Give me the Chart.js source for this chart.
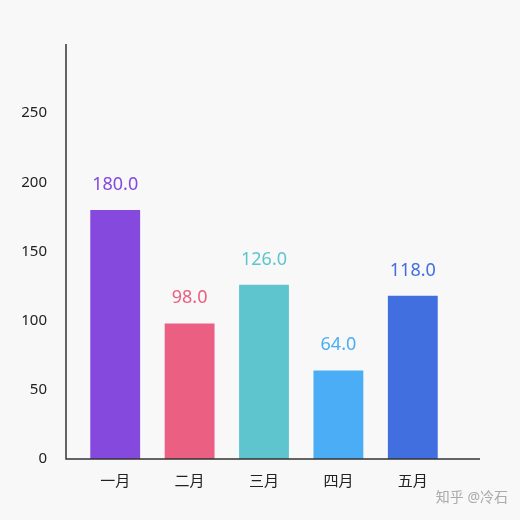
<!DOCTYPE html>
<html><head><meta charset="utf-8">
<script src="https://cdn.jsdelivr.net/npm/chart.js@4"></script>
<style>body{margin:0;background:#f8f8f8}#wrap{width:520px;height:520px;position:relative}</style>
</head><body><div id="wrap"><canvas id="c" width="520" height="520"></canvas></div>
<script>
var months = ['一月','二月','三月','四月','五月'];
var values = [180, 98, 126, 64, 118];
var colors = ['#8549de','#ea5f82','#5ec5cf','#4badf6','#416fdf'];
var yTicks = [0,50,100,150,200,250];
var fam = '"Noto Sans", "Noto Sans CJK SC", sans-serif';

var extras = {
  id: 'extras',
  afterDraw: function(chart){
    var ctx = chart.ctx, a = chart.chartArea;
    ctx.save();
    ctx.strokeStyle = '#333'; ctx.lineWidth = 1.5;
    ctx.beginPath();
    ctx.moveTo(66, a.top); ctx.lineTo(66, a.bottom); ctx.lineTo(480, a.bottom);
    ctx.stroke();
    var meta = chart.getDatasetMeta(0);
    ctx.font = '18px ' + fam;
    ctx.textAlign = 'center';
    meta.data.forEach(function(b, i){
      ctx.fillStyle = colors[i];
      ctx.fillText(values[i].toFixed(1), b.x, b.y - 20);
    });
    ctx.font = '14px ' + fam;
    ctx.fillStyle = '#aaa'; ctx.textAlign = 'right';
    ctx.fillText('知乎 @冷石', 508, 502);
    ctx.restore();
  }
};

new Chart(document.getElementById('c'), {
  type: 'bar',
  data: { labels: months, datasets: [{ data: values, backgroundColor: colors, barPercentage: 0.67, categoryPercentage: 1 }] },
  options: {
    responsive: false, animation: false,
    layout: { padding: { top: 44, right: 70, bottom: 15, left: 0 } },
    plugins: { legend: { display: false }, tooltip: { enabled: false } },
    scales: {
      x: { grid: { display: false, drawTicks: false }, border: { display: false },
           ticks: { color: '#222', padding: 14, font: { size: 15, family: fam } } },
      y: { min: 0, max: 300, afterBuildTicks: function(s){ s.ticks = yTicks.map(function(v){ return {value: v}; }); },
           afterFit: function(s){ s.width = 78; },
           grid: { display: false, drawTicks: false }, border: { display: false },
           ticks: { color: '#222', padding: 31, font: { size: 15, family: fam } } }
    }
  },
  plugins: [extras]
});
</script></body></html>
